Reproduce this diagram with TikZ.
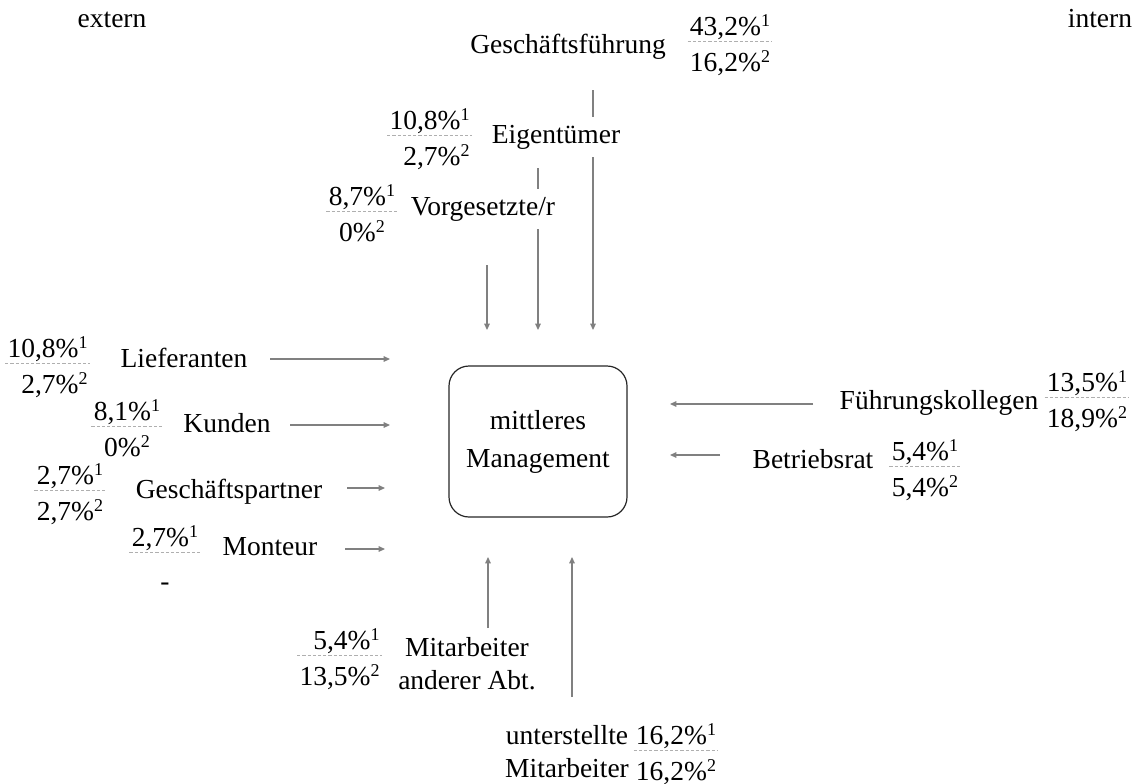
\documentclass[tikz,border=0pt]{standalone}
\usepackage{fontspec}
\setmainfont{Liberation Serif}
\usetikzlibrary{arrows.meta,calc}

\definecolor{flowgray}{RGB}{128,128,128}
\definecolor{rulegray}{RGB}{175,175,175}

\pgfdeclarelayer{bg}
\pgfsetlayers{bg,main}

\tikzset{
  txt/.style={font=\fontsize{13.75}{16.5}\selectfont},
  lbl/.style={txt, inner xsep=1.5pt, inner ysep=4pt, fill=white, anchor=base},
  num/.style={txt, inner sep=0pt},
  sharerule/.style={draw=rulegray, line width=0.5pt, dash pattern=on 1.6pt off 1pt},
  flow/.style={draw=flowgray, line width=0.6pt, -{Triangle[length=3.2pt,width=2.8pt]}},
  corebox/.style={draw=black!85, line width=0.6pt, rounded corners=10pt,
    minimum width=89pt, minimum height=75.5pt, align=center,
    font=\fontsize{13.75}{19}\selectfont},
}

% two shares stacked over a dashed rule; #1 = anchor suffix, #2 = name,
% #3 = point on the rule, #4 = upper share, #5 = lower share
\newcommand\share[5][]{%
  \node[num, anchor=base#1] (#2u) at ($(#3)+(0,-6)$) {#4};
  \node[num, anchor=base#1] (#2l) at ($(#3)+(0,30)$) {#5};
  \draw[sharerule] let \p1=(#2u.west), \p2=(#2l.west), \p3=(#2u.east),
      \p4=(#2l.east), \p5=($(#3)$) in
    ({min(\x1,\x2)-1pt},\y5) -- ({max(\x3,\x4)+1pt},\y5);
}
\newcommand\supidx[1]{\raisebox{0.3em}{\fontsize{9}{9}\selectfont #1}}
\newcommand\pa[1]{#1\%\supidx{1}}
\newcommand\pb[1]{#1\%\supidx{2}}

\begin{document}
\begin{tikzpicture}[x=0.5pt,y=-0.5pt]
\useasboundingbox (0,0) rectangle (1140,783);

% side headings
\node[lbl] (ext) at (112,27) {extern};
\node[lbl] (int) at (1100,27) {intern};

% central unit
\node[corebox] (mm) at (538,441.5) {mittleres\\Management};

% sources above
\node[lbl] (gf)  at (568,53)  {Geschäftsführung};
\node[lbl] (eig) at (556,143) {Eigentümer};
\node[lbl] (vor) at (483,215) {Vorgesetzte/r};
\share{gfs}{730,41}{\pa{43,2}}{\pb{16,2}}
\share[ east]{eis}{470,135}{\pa{10,8}}{\pb{2,7}}
\share{vos}{362,211}{\pa{8,7}}{\pb{0}}

% sources on the left
\node[lbl] (lief) at (184,367) {Lieferanten};
\node[lbl] (kun)  at (227,432) {Kunden};
\node[lbl] (gp)   at (229,498) {Geschäftspartner};
\node[lbl] (mon)  at (270,555) {Monteur};
\share[ east]{lis}{88,363}{\pa{10,8}}{\pb{2,7}}
\share{kus}{127,426}{\pa{8,1}}{\pb{0}}
\share{gps}{70,490}{\pa{2,7}}{\pb{2,7}}
\share{mos}{165,552}{\pa{2,7}}{\raisebox{-4pt}{-}}

% sources on the right
\node[lbl] (fk) at (939,409) {Führungskollegen};
\node[lbl] (br) at (813,468) {Betriebsrat};
\share{fks}{1087,397}{\pa{13,5}}{\pb{18,9}}
\share{brs}{925,466}{\pa{5,4}}{\pb{5,4}}

% sources below
\node[lbl, align=center, anchor=center] (ma) at (467,664) {Mitarbeiter\\anderer Abt.};
\node[lbl, align=center, anchor=center] (um) at (567,752) {unterstellte\\Mitarbeiter};
\share[ east]{mas}{380,655}{\pa{5,4}}{\pb{13,5}}
\share{ums}{676,750}{\pa{16,2}}{\pb{16,2}}

% arrow ends
\coordinate (gf-a)   at (593,90);   \coordinate (gf-b)   at (593,330);
\coordinate (eig-a)  at (538,168);  \coordinate (eig-b)  at (538,330);
\coordinate (vor-a)  at (487,265);  \coordinate (vor-b)  at (487,330);
\coordinate (lief-a) at (270,359);  \coordinate (lief-b) at (390,359);
\coordinate (kun-a)  at (290,425);  \coordinate (kun-b)  at (390,425);
\coordinate (gp-a)   at (347,488);  \coordinate (gp-b)   at (385,488);
\coordinate (mon-a)  at (345,549);  \coordinate (mon-b)  at (385,549);
\coordinate (fk-a)   at (813,404);  \coordinate (fk-b)   at (670,404);
\coordinate (br-a)   at (720,455);  \coordinate (br-b)   at (670,455);
\coordinate (ma-a)   at (488,628);  \coordinate (ma-b)   at (488,557);
\coordinate (um-a)   at (572,697);  \coordinate (um-b)   at (572,557);

% influence arrows, drawn beneath the labels
\begin{pgfonlayer}{bg}
  \foreach \s in {gf,eig,vor,lief,kun,gp,mon,fk,br,ma,um}
    \draw[flow] (\s-a) -- (\s-b);
\end{pgfonlayer}
\end{tikzpicture}
\end{document}
